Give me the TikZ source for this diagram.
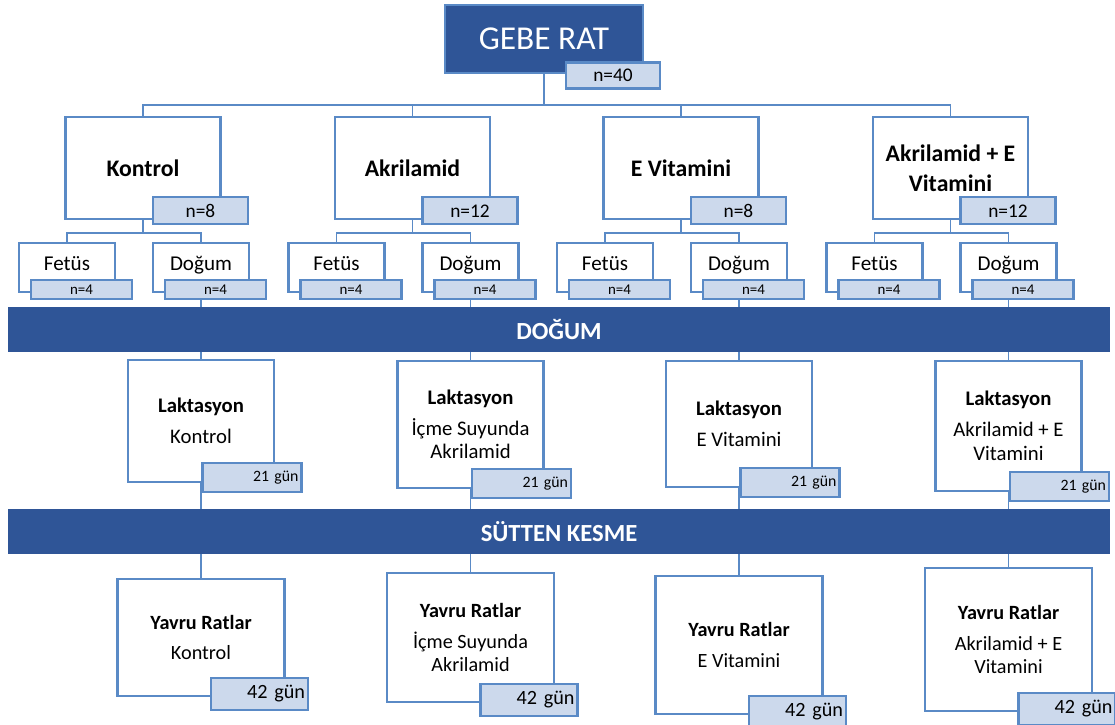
\documentclass[tikz,border=0pt]{standalone}
\usepackage{fontspec}
\setmainfont{Carlito}
\usetikzlibrary{backgrounds}
\definecolor{darkblue}{HTML}{2F5597}
\definecolor{boxline}{HTML}{5A8AC6}
\definecolor{tagfill}{HTML}{CCD9EC}

\begin{document}
\begin{tikzpicture}[
  box/.style={draw=boxline, line width=1.4pt, fill=white, align=center, inner sep=1pt},
  subbox/.style={box, minimum width=1.92cm, minimum height=0.98cm, text height=0.28cm, text depth=0.18cm, font=\fontsize{12}{14}\selectfont},
  tag/.style={draw=boxline, line width=1.4pt, fill=tagfill, inner sep=0pt, align=center},
  grouptag/.style={tag, minimum width=1.9cm, minimum height=0.54cm, font=\fontsize{11}{13}\selectfont},
  subtag/.style={tag, minimum width=2.02cm, minimum height=0.38cm, font=\fontsize{8.5}{10}\selectfont},
  daytag/.style={tag, minimum width=1.98cm, minimum height=0.58cm, text width=1.86cm, align=right, font=\fontsize{9}{11}\selectfont},
  agetag/.style={tag, minimum width=1.94cm, minimum height=0.64cm, text width=1.82cm, align=right, font=\fontsize{11.5}{13}\selectfont},
  band/.style={fill=darkblue, minimum width=22.04cm, minimum height=0.9cm, text=white, font=\fontsize{14}{16}\selectfont\bfseries},
  link/.style={boxline, line width=1.1pt},
  ]
  \useasboundingbox (0,0) rectangle (22.3,-14.48);

  %%% pregnant rats (top) %%%
  \node[fill=darkblue, draw=boxline, line width=0.8pt, minimum width=3.96cm, minimum height=1.36cm,
        text=white, font=\fontsize{19}{22}\selectfont] (gebe) at (10.88,-0.78) {GEBE RAT};
  \node[grouptag, minimum width=1.88cm, minimum height=0.52cm] (gebe-n) at ([xshift=1.38cm,yshift=-0.04cm]gebe.south) {n=40};
  \coordinate (split) at (10.88,-2.1);

  %%% treatment groups with Fetüs / Doğum split %%%
  \foreach \cx/\gid/\glabel/\gn in {4.02/k/Kontrol/8, 9.41/a/Akrilamid/12, 14.78/e/E Vitamini/8, 20.17/ae/{Akrilamid + E\\Vitamini}/12} {
    \node[box, minimum width=3.1cm, minimum height=2.04cm, font=\fontsize{13.5}{17}\selectfont\bfseries] (\gid) at (\cx-1.16,-3.36) {\glabel};
    \node[grouptag] (\gid-n) at ([xshift=1.15cm,yshift=0.19cm]\gid.south) {n=\gn};
    \node[subbox] (\gid-f) at (\cx-2.68,-5.35) {Fetüs};
    \node[subtag] (\gid-fn) at ([xshift=0.29cm,yshift=0.07cm]\gid-f.south) {n=4};
    \node[subbox] (\gid-d) at (\cx,-5.35) {Doğum};
    \node[subtag] (\gid-dn) at ([xshift=0.29cm,yshift=0.07cm]\gid-d.south) {n=4};
    \draw[link] (gebe.south) -- (split) -| (\gid.north);
    \draw[link] (\gid.south) -- ++(0,-0.26) -| (\gid-f.north);
    \draw[link] (\gid.south) -- ++(0,-0.26) -| (\gid-d.north);
  }

  %%% phase bands %%%
  \node[band] (dogum) at (11.18,-6.58) {DOĞUM};
  \node[band] (sutten) at (11.18,-10.63) {SÜTTEN KESME};

  %%% lactation boxes (21 days) %%%
  \foreach \cx/\gid/\ly/\lh/\ltext in {4.02/k/-8.42/2.44/Kontrol, 9.41/a/-8.49/2.54/{İçme Suyunda\\Akrilamid}, 14.78/e/-8.48/2.52/E Vitamini, 20.17/ae/-8.52/2.6/{Akrilamid + E\\Vitamini}} {
    \node[box, minimum width=2.92cm, minimum height=\lh cm, font=\fontsize{11.8}{13.5}\selectfont] (\gid-l) at (\cx,\ly) {\textbf{Laktasyon}\\[4pt]\ltext};
    \node[daytag] (\gid-lt) at ([xshift=1.02cm,yshift=0.11cm]\gid-l.south) {21 gün};
    \begin{scope}[on background layer]
      \draw[link] (\gid-d.south) -- (\gid-d.south |- \gid-l.north);
    \end{scope}
  }

  %%% offspring boxes (42 days) %%%
  \foreach \cx/\gid/\yy/\yh/\ytext in {4.02/k/-12.75/2.34/Kontrol, 9.41/a/-12.75/2.58/{İçme Suyunda\\Akrilamid}, 14.78/e/-12.9/2.76/E Vitamini, 20.17/ae/-12.79/2.86/{Akrilamid + E\\Vitamini}} {
    \node[box, minimum width=3.34cm, minimum height=\yh cm, font=\fontsize{11.5}{13.5}\selectfont] (\gid-y) at (\cx,\yy) {\textbf{Yavru Ratlar}\\[4pt]\ytext};
    \node[agetag] (\gid-yt) at ([xshift=1.17cm,yshift=0.07cm]\gid-y.south) {42 gün};
    \begin{scope}[on background layer]
      \draw[link] (\gid-l.south) -- (\gid-l.south |- \gid-y.north);
    \end{scope}
  }
\end{tikzpicture}
\end{document}
